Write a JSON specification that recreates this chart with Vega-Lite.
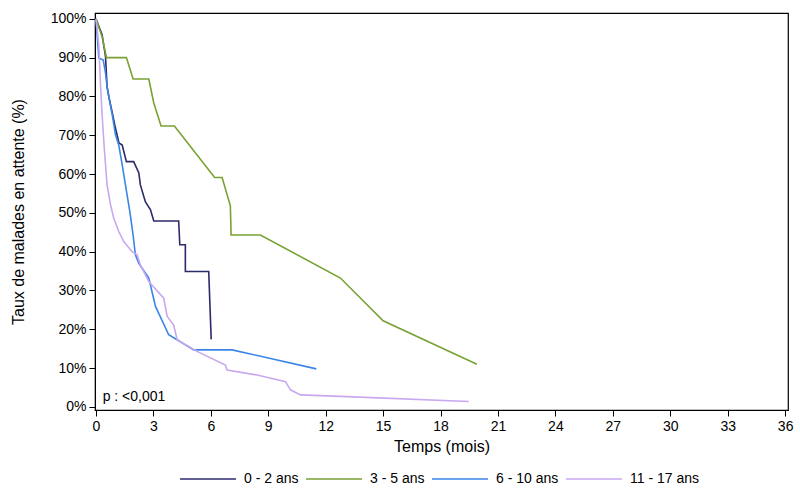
{
  "$schema": "https://vega.github.io/schema/vega-lite/v6.json",
  "description": "Taux de malades en attente selon l'âge",
  "autosize": {"type": "none"},
  "padding": {"left": 95, "top": 13, "right": 12, "bottom": 89},
  "width": 693,
  "height": 397,
  "config": {
    "font": "Liberation Sans",
    "view": {"stroke": "#000000", "strokeWidth": 1.2},
    "axis": {
      "domainColor": "#000000",
      "tickColor": "#000000",
      "labelColor": "#000000",
      "titleColor": "#000000",
      "labelFontSize": 14,
      "titleFontSize": 16,
      "titleFontWeight": "normal",
      "tickSize": 6,
      "labelOverlap": false,
      "labelFlush": false,
      "grid": false
    }
  },
  "encoding": {
    "x": {
      "field": "t",
      "type": "quantitative",
      "title": "Temps (mois)",
      "scale": {"domain": [-0.05, 36.15], "nice": false, "zero": false},
      "axis": {
        "values": [0, 3, 6, 9, 12, 15, 18, 21, 24, 27, 30, 33, 36],
        "labelPadding": 3,
        "titlePadding": 5
      }
    },
    "y": {
      "field": "p",
      "type": "quantitative",
      "title": "Taux de malades en attente (%)",
      "scale": {"domain": [-0.8, 101.5], "nice": false, "zero": false},
      "axis": {
        "values": [0, 10, 20, 30, 40, 50, 60, 70, 80, 90, 100],
        "tickCount": 11,
        "labelExpr": "datum.value + '%'",
        "labelOverlap": false,
        "labelSeparation": 0,
        "labelPadding": 3,
        "titlePadding": 24
      }
    }
  },
  "layer": [
    {
      "data": {
        "values": [
          {"g": "0 - 2 ans", "i": 1, "t": 0, "p": 100},
          {"g": "0 - 2 ans", "i": 2, "t": 0.32, "p": 95.9},
          {"g": "0 - 2 ans", "i": 3, "t": 0.5, "p": 90.3},
          {"g": "0 - 2 ans", "i": 4, "t": 0.58, "p": 82.5},
          {"g": "0 - 2 ans", "i": 5, "t": 0.67, "p": 80},
          {"g": "0 - 2 ans", "i": 6, "t": 0.85, "p": 75.8},
          {"g": "0 - 2 ans", "i": 7, "t": 0.98, "p": 72.7},
          {"g": "0 - 2 ans", "i": 8, "t": 1.2, "p": 68},
          {"g": "0 - 2 ans", "i": 9, "t": 1.37, "p": 67.5},
          {"g": "0 - 2 ans", "i": 10, "t": 1.59, "p": 63.2},
          {"g": "0 - 2 ans", "i": 11, "t": 1.97, "p": 63.2},
          {"g": "0 - 2 ans", "i": 12, "t": 2.24, "p": 60.3},
          {"g": "0 - 2 ans", "i": 13, "t": 2.32, "p": 57.2},
          {"g": "0 - 2 ans", "i": 14, "t": 2.58, "p": 52.9},
          {"g": "0 - 2 ans", "i": 15, "t": 2.85, "p": 50.8},
          {"g": "0 - 2 ans", "i": 16, "t": 3.02, "p": 47.9},
          {"g": "0 - 2 ans", "i": 17, "t": 4.32, "p": 47.9},
          {"g": "0 - 2 ans", "i": 18, "t": 4.38, "p": 41.8},
          {"g": "0 - 2 ans", "i": 19, "t": 4.67, "p": 41.8},
          {"g": "0 - 2 ans", "i": 20, "t": 4.67, "p": 34.9},
          {"g": "0 - 2 ans", "i": 21, "t": 5.89, "p": 34.9},
          {"g": "0 - 2 ans", "i": 22, "t": 6.02, "p": 17.4},

          {"g": "3 - 5 ans", "i": 1, "t": 0, "p": 100},
          {"g": "3 - 5 ans", "i": 2, "t": 0.32, "p": 95.4},
          {"g": "3 - 5 ans", "i": 3, "t": 0.55, "p": 90},
          {"g": "3 - 5 ans", "i": 4, "t": 1.59, "p": 90},
          {"g": "3 - 5 ans", "i": 5, "t": 1.94, "p": 84.5},
          {"g": "3 - 5 ans", "i": 6, "t": 2.76, "p": 84.5},
          {"g": "3 - 5 ans", "i": 7, "t": 3.02, "p": 78.3},
          {"g": "3 - 5 ans", "i": 8, "t": 3.4, "p": 72.4},
          {"g": "3 - 5 ans", "i": 9, "t": 4.1, "p": 72.4},
          {"g": "3 - 5 ans", "i": 10, "t": 6.2, "p": 59.1},
          {"g": "3 - 5 ans", "i": 11, "t": 6.59, "p": 59.1},
          {"g": "3 - 5 ans", "i": 12, "t": 7.02, "p": 51.8},
          {"g": "3 - 5 ans", "i": 13, "t": 7.06, "p": 44.3},
          {"g": "3 - 5 ans", "i": 14, "t": 8.59, "p": 44.3},
          {"g": "3 - 5 ans", "i": 15, "t": 12.77, "p": 33.2},
          {"g": "3 - 5 ans", "i": 16, "t": 15.0, "p": 22.2},
          {"g": "3 - 5 ans", "i": 17, "t": 19.9, "p": 11.0},

          {"g": "6 - 10 ans", "i": 1, "t": 0, "p": 100},
          {"g": "6 - 10 ans", "i": 2, "t": 0.15, "p": 89.9},
          {"g": "6 - 10 ans", "i": 3, "t": 0.38, "p": 89.4},
          {"g": "6 - 10 ans", "i": 4, "t": 0.5, "p": 86},
          {"g": "6 - 10 ans", "i": 5, "t": 0.58, "p": 82.5},
          {"g": "6 - 10 ans", "i": 6, "t": 0.72, "p": 78.7},
          {"g": "6 - 10 ans", "i": 7, "t": 0.85, "p": 75.3},
          {"g": "6 - 10 ans", "i": 8, "t": 1.02, "p": 70.1},
          {"g": "6 - 10 ans", "i": 9, "t": 1.19, "p": 67.5},
          {"g": "6 - 10 ans", "i": 10, "t": 1.37, "p": 62.4},
          {"g": "6 - 10 ans", "i": 11, "t": 1.54, "p": 57.2},
          {"g": "6 - 10 ans", "i": 12, "t": 1.77, "p": 50.3},
          {"g": "6 - 10 ans", "i": 13, "t": 1.94, "p": 44.3},
          {"g": "6 - 10 ans", "i": 14, "t": 2.06, "p": 39.2},
          {"g": "6 - 10 ans", "i": 15, "t": 2.24, "p": 37.0},
          {"g": "6 - 10 ans", "i": 16, "t": 2.58, "p": 34.5},
          {"g": "6 - 10 ans", "i": 17, "t": 2.76, "p": 33.2},
          {"g": "6 - 10 ans", "i": 18, "t": 3.11, "p": 25.9},
          {"g": "6 - 10 ans", "i": 19, "t": 3.8, "p": 18.6},
          {"g": "6 - 10 ans", "i": 20, "t": 5.11, "p": 14.7},
          {"g": "6 - 10 ans", "i": 21, "t": 7.11, "p": 14.7},
          {"g": "6 - 10 ans", "i": 22, "t": 11.51, "p": 9.8},

          {"g": "11 - 17 ans", "i": 1, "t": 0, "p": 100},
          {"g": "11 - 17 ans", "i": 2, "t": 0.15, "p": 93.3},
          {"g": "11 - 17 ans", "i": 3, "t": 0.23, "p": 83.8},
          {"g": "11 - 17 ans", "i": 4, "t": 0.32, "p": 75.3},
          {"g": "11 - 17 ans", "i": 5, "t": 0.41, "p": 68.4},
          {"g": "11 - 17 ans", "i": 6, "t": 0.5, "p": 62.4},
          {"g": "11 - 17 ans", "i": 7, "t": 0.58, "p": 57.2},
          {"g": "11 - 17 ans", "i": 8, "t": 0.76, "p": 52.1},
          {"g": "11 - 17 ans", "i": 9, "t": 0.93, "p": 48.6},
          {"g": "11 - 17 ans", "i": 10, "t": 1.19, "p": 45.2},
          {"g": "11 - 17 ans", "i": 11, "t": 1.45, "p": 42.6},
          {"g": "11 - 17 ans", "i": 12, "t": 1.89, "p": 40.0},
          {"g": "11 - 17 ans", "i": 13, "t": 2.15, "p": 39.2},
          {"g": "11 - 17 ans", "i": 14, "t": 2.32, "p": 36.6},
          {"g": "11 - 17 ans", "i": 15, "t": 2.76, "p": 32.3},
          {"g": "11 - 17 ans", "i": 16, "t": 3.54, "p": 28.0},
          {"g": "11 - 17 ans", "i": 17, "t": 3.72, "p": 23.3},
          {"g": "11 - 17 ans", "i": 18, "t": 4.06, "p": 21.1},
          {"g": "11 - 17 ans", "i": 19, "t": 4.24, "p": 17.3},
          {"g": "11 - 17 ans", "i": 20, "t": 5.28, "p": 14.3},
          {"g": "11 - 17 ans", "i": 21, "t": 6.76, "p": 10.8},
          {"g": "11 - 17 ans", "i": 22, "t": 6.85, "p": 9.5},
          {"g": "11 - 17 ans", "i": 23, "t": 8.42, "p": 8.2},
          {"g": "11 - 17 ans", "i": 24, "t": 9.9, "p": 6.5},
          {"g": "11 - 17 ans", "i": 25, "t": 10.16, "p": 4.4},
          {"g": "11 - 17 ans", "i": 26, "t": 10.68, "p": 3.1},
          {"g": "11 - 17 ans", "i": 27, "t": 12.77, "p": 2.7},
          {"g": "11 - 17 ans", "i": 28, "t": 19.47, "p": 1.4}
        ]
      },
      "mark": {"type": "line", "strokeWidth": 1.6, "clip": true},
      "encoding": {
        "color": {
          "field": "g",
          "type": "nominal",
          "scale": {
            "domain": ["0 - 2 ans", "3 - 5 ans", "6 - 10 ans", "11 - 17 ans"],
            "range": ["#2b2a6b", "#78a232", "#3a85e6", "#c8a8f0"]
          },
          "legend": {
            "title": null,
            "orient": "none",
            "direction": "horizontal",
            "legendX": 84,
            "legendY": 437,
            "symbolType": "stroke",
            "symbolSize": 3136,
            "symbolStrokeWidth": 1.6,
            "labelFontSize": 14,
            "labelColor": "#000000",
            "labelOffset": 7,
            "columnPadding": 3
          }
        },
        "order": {"field": "i", "type": "quantitative"}
      }
    },
    {
      "data": {"values": [{"t": 0.35, "p": 2.6, "label": "p : <0,001"}]},
      "mark": {"type": "text", "align": "left", "baseline": "middle", "fontSize": 14, "color": "#000000"},
      "encoding": {
        "text": {"field": "label"}
      }
    }
  ]
}
